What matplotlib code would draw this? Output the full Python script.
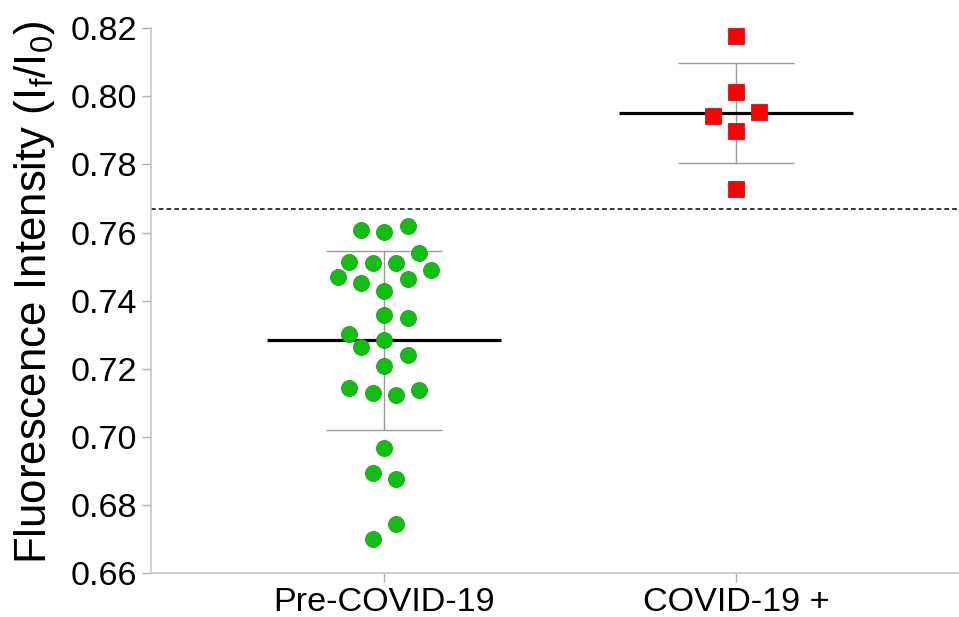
import numpy as np
import matplotlib
matplotlib.use('Agg')
import matplotlib.pyplot as plt

# Data
groups = ['Pre-COVID-19', 'COVID-19 +']

pre_values = [0.7607, 0.7602, 0.7620, 0.7541, 0.7513, 0.7510, 0.7510, 0.7489,
              0.7469, 0.7464, 0.7451, 0.7429, 0.7357, 0.7350, 0.7303, 0.7285,
              0.7263, 0.7241, 0.7208, 0.7144, 0.7128, 0.7122, 0.7139, 0.6967,
              0.6893, 0.6878, 0.6745, 0.6701]
# swarm slot of each point (in half-marker steps from the group centre)
pre_slots = [-2, 0, 2, 3, -3, -1, 1, 4,
             -4, 2, -2, 0, 0, 2, -3, 0,
             -2, 2, 0, -3, -1, 1, 3, 0,
             -1, 1, 1, -1]

pos_values = [0.8177, 0.8011, 0.7941, 0.7954, 0.7898, 0.7728]
pos_slots = [0, 0, -2, 2, 0, 0]

cutoff = 0.767
yticks = [0.66, 0.68, 0.70, 0.72, 0.74, 0.76, 0.78, 0.80, 0.82]

plt.rcParams['font.family'] = ['Liberation Sans', 'DejaVu Sans']
plt.rcParams['mathtext.fontset'] = 'custom'
plt.rcParams['mathtext.rm'] = 'Liberation Sans'
plt.rcParams['lines.scale_dashes'] = False


def plot_chart():
    fig = plt.figure(figsize=(9.59, 6.17), dpi=100, facecolor='white')
    ax = fig.add_axes([0.1575, 0.0708, 0.8425, 0.8838])

    step = 0.0331  # half a marker width in x units
    spread = 0.333  # half length of the mean line
    series = [
        (1, pre_values, pre_slots, 'o', '#10c010', '#1f9a1f'),
        (2, pos_values, pos_slots, 's', '#ff0000', '#c81818'),
    ]
    for x0, vals, slots, mk, face, edge in series:
        vals = np.array(vals)
        xs = x0 + np.array(slots) * step
        mean = vals.mean()
        sd = vals.std(ddof=1)
        ax.errorbar(x0, mean, yerr=sd, color='#9a9a9a', lw=1.0,
                    capsize=42, capthick=1.0, zorder=2)
        ax.hlines(mean, x0 - spread, x0 + spread, color='black', lw=2.3, zorder=3)
        ax.plot(xs, vals, ls='none', marker=mk, markersize=11.5,
                markerfacecolor=face, markeredgecolor=edge, markeredgewidth=0.6,
                zorder=4)

    ax.axhline(cutoff, color='black', lw=1.1, dashes=[3.4, 2.2], zorder=1)

    ax.set_xlim(0.336, 2.635)
    ax.set_ylim(0.66, 0.82)
    ax.set_xticks([1, 2])
    ax.set_xticklabels(groups)
    ax.set_yticks(yticks)
    ax.set_yticklabels(['%.2f' % t for t in yticks])

    for side in ['top', 'right']:
        ax.spines[side].set_visible(False)
    for side in ['left', 'bottom']:
        ax.spines[side].set_color('#c4c4c4')
        ax.spines[side].set_linewidth(1.1)
    ax.tick_params(axis='both', colors='#b0b0b0', labelcolor='black',
                   length=6.5, width=1.0, labelsize=24.6, pad=3.5)

    ax.set_ylabel(r'Fluorescence Intensity (I$_\mathregular{f}$/I$_\mathregular{0}$)',
                  fontsize=31.5)
    ax.yaxis.set_label_coords(-0.116, 0.515)

    fig.savefig('out.png', dpi=100, facecolor='white')


if __name__ == '__main__':
    plot_chart()
